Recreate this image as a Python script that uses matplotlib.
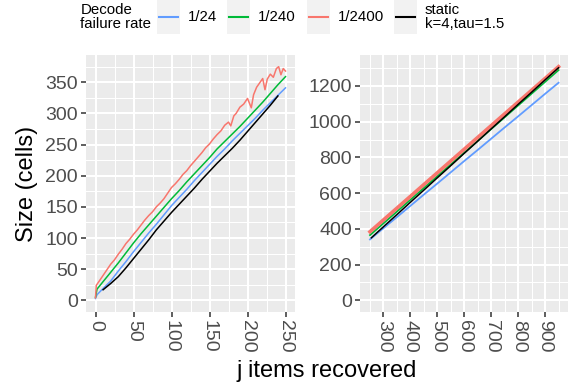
import matplotlib
matplotlib.use("Agg")
import matplotlib.pyplot as plt
from matplotlib.patches import Rectangle
from matplotlib.lines import Line2D
from matplotlib.ticker import MultipleLocator

plt.rcParams['font.family'] = ['Liberation Sans', 'DejaVu Sans']

# ---------------- data ----------------
series_labels = ["1/24", "1/240", "1/2400", "static\nk=4,tau=1.5"]
series_colors = ["#619CFF", "#00BA38", "#F8766D", "#000000"]

# left panel (small j)
left_x = [0, 2, 10, 20, 30, 40, 50, 60, 70, 80, 90, 100, 110, 120, 130, 140,
          150, 160, 170, 180, 190, 200, 210, 220, 230, 240, 250]
blue_left = [3, 9, 19, 31, 47, 62, 78, 93, 108, 122, 137, 152, 165, 178, 192, 205,
             218, 231, 243, 256, 268, 280, 292, 305, 317, 329, 341]
green_left = [5, 18, 30, 45, 60, 76, 92, 107, 121, 135, 149, 163, 176, 190, 203, 216,
              229, 243, 255, 267, 279, 292, 305, 318, 332, 346, 359]
red_left_x = [0, 1, 5, 10, 15, 20, 25, 30, 35, 40, 45, 50, 55, 60, 65, 70, 75, 80,
              85, 90, 95, 100, 105, 110, 115, 120, 125, 130, 135, 140, 145, 150,
              155, 160, 165, 170, 175, 178, 182, 185, 190, 195, 200, 205, 208,
              212, 216, 220, 223, 226, 230, 234, 238, 241, 244, 247, 250]
red_left = [4, 24, 31, 40, 49, 58, 65, 74, 82, 91, 98, 106, 113, 121, 129, 136, 142,
            150, 156, 163, 172, 181, 187, 194, 202, 208, 216, 223, 230, 237, 245,
            251, 259, 266, 272, 281, 286, 280, 296, 300, 310, 315, 324, 309, 330,
            342, 349, 356, 338, 355, 363, 358, 372, 375, 362, 372, 368]
black_left_x = [10, 20, 30, 40, 50, 60, 70, 80, 90, 100, 110, 120, 130, 140, 150,
                160, 170, 180, 190, 200, 210, 220, 230, 240]
black_left = [17, 27, 38, 52, 67, 82, 97, 113, 127, 141, 154, 167, 180, 194, 207,
              220, 232, 244, 257, 271, 285, 299, 313, 328]

# right panel (large j)
right_x = [250, 300, 350, 400, 450, 500, 550, 600, 650, 700, 750, 800, 850, 900, 950]
blue_right = [341, 404, 466, 529, 592, 654, 717, 780, 842, 905, 968, 1030, 1093, 1156, 1218]
green_right = [365, 431, 497, 563, 629, 695, 761, 827, 893, 959, 1025, 1091, 1157, 1223, 1289]
red_right = [384, 450, 516, 582, 648, 714, 780, 846, 912, 978, 1044, 1110, 1176, 1242, 1308]
black_right_x = [255, 300, 350, 400, 450, 500, 550, 600, 650, 700, 750, 800, 850, 900, 950]
black_right = [350, 412, 480, 549, 617, 686, 754, 823, 891, 960, 1028, 1097, 1165, 1234, 1302]

left_xticks = [0, 50, 100, 150, 200, 250]
left_yticks = [0, 50, 100, 150, 200, 250, 300, 350]
right_xticks = [300, 400, 500, 600, 700, 800, 900]
right_yticks = [0, 200, 400, 600, 800, 1000, 1200]

# ---------------- figure ----------------
W, H = 580, 391
fig = plt.figure(figsize=(W / 100, H / 100), dpi=100)


def fx(x):
    return x / W


def fy(y):
    return 1 - y / H


def panel(l, t, r, b):
    return fig.add_axes([fx(l), fy(b), (r - l) / W, (b - t) / H])


axL = panel(86, 55, 295, 312)
axR = panel(360, 55, 568, 312)


def expand(lo, hi, f=0.05):
    d = (hi - lo) * f
    return lo - d, hi + d


TICK_FS = 14
for ax in (axL, axR):
    ax.set_facecolor("#EBEBEB")
    for s in ax.spines.values():
        s.set_visible(False)
    ax.grid(which="major", color="white", linewidth=1.5)
    ax.grid(which="minor", color="white", linewidth=0.75)
    ax.set_axisbelow(True)
    ax.tick_params(which="major", direction="out", length=3.6, width=1.1,
                   color="#333333", labelcolor="#4D4D4D", labelsize=TICK_FS, pad=2.2)
    ax.tick_params(which="minor", length=0)
    ax.tick_params(axis="x", labelrotation=270)

# left panel
axL.plot(left_x, blue_left, color=series_colors[0], lw=1.1)
axL.plot(left_x, green_left, color=series_colors[1], lw=1.1)
axL.plot(red_left_x, red_left, color=series_colors[2], lw=1.1)
axL.plot(black_left_x, black_left, color=series_colors[3], lw=1.1)
axL.set_xlim(*expand(0, 250))
axL.set_ylim(*expand(0, max(red_left)))
axL.set_xticks(left_xticks)
axL.set_yticks(left_yticks)
axL.xaxis.set_minor_locator(MultipleLocator(25))
axL.yaxis.set_minor_locator(MultipleLocator(25))

# right panel
axR.plot(right_x, blue_right, color=series_colors[0], lw=1.3)
axR.plot(right_x, green_right, color=series_colors[1], lw=1.3)
axR.plot(right_x, red_right, color=series_colors[2], lw=2.6)
axR.plot(black_right_x, black_right, color=series_colors[3], lw=1.1)
axR.set_xlim(*expand(248, 950))
axR.set_ylim(*expand(0, max(red_right)))
axR.set_xticks(right_xticks)
axR.set_yticks(right_yticks)
axR.xaxis.set_minor_locator(MultipleLocator(50))
axR.yaxis.set_minor_locator(MultipleLocator(100))

for ax in (axL, axR):
    for lab in ax.get_xticklabels():
        lab.set_va("top")
        lab.set_ha("center")

# axis titles
fig.text(fx(27), fy(183.5), "Size (cells)", rotation=90, ha="center", va="center",
         fontsize=17, color="black")
fig.text(fx(327), fy(377), "j items recovered", ha="center", va="baseline",
         fontsize=17, color="black")

# legend
LEG_FS = 10.8
fig.text(fx(80.5), fy(17), "Decode\nfailure rate", ha="left", va="center",
         fontsize=LEG_FS, color="black", linespacing=0.95)
key_left = [157, 227, 307, 394]
label_left = [188, 258, 338, 425]
for kl, ll, lab, col in zip(key_left, label_left, series_labels, series_colors):
    fig.add_artist(Rectangle((fx(kl), fy(34)), 23 / W, 34 / H,
                             transform=fig.transFigure, facecolor="#F2F2F2",
                             edgecolor="none"))
    fig.add_artist(Line2D([fx(kl + 2), fx(kl + 21)], [fy(17), fy(17)],
                          transform=fig.transFigure, color=col, lw=1.5))
    fig.text(fx(ll), fy(17), lab, ha="left", va="center", fontsize=LEG_FS,
             color="black", linespacing=0.95)

fig.savefig("out.png", dpi=100)
